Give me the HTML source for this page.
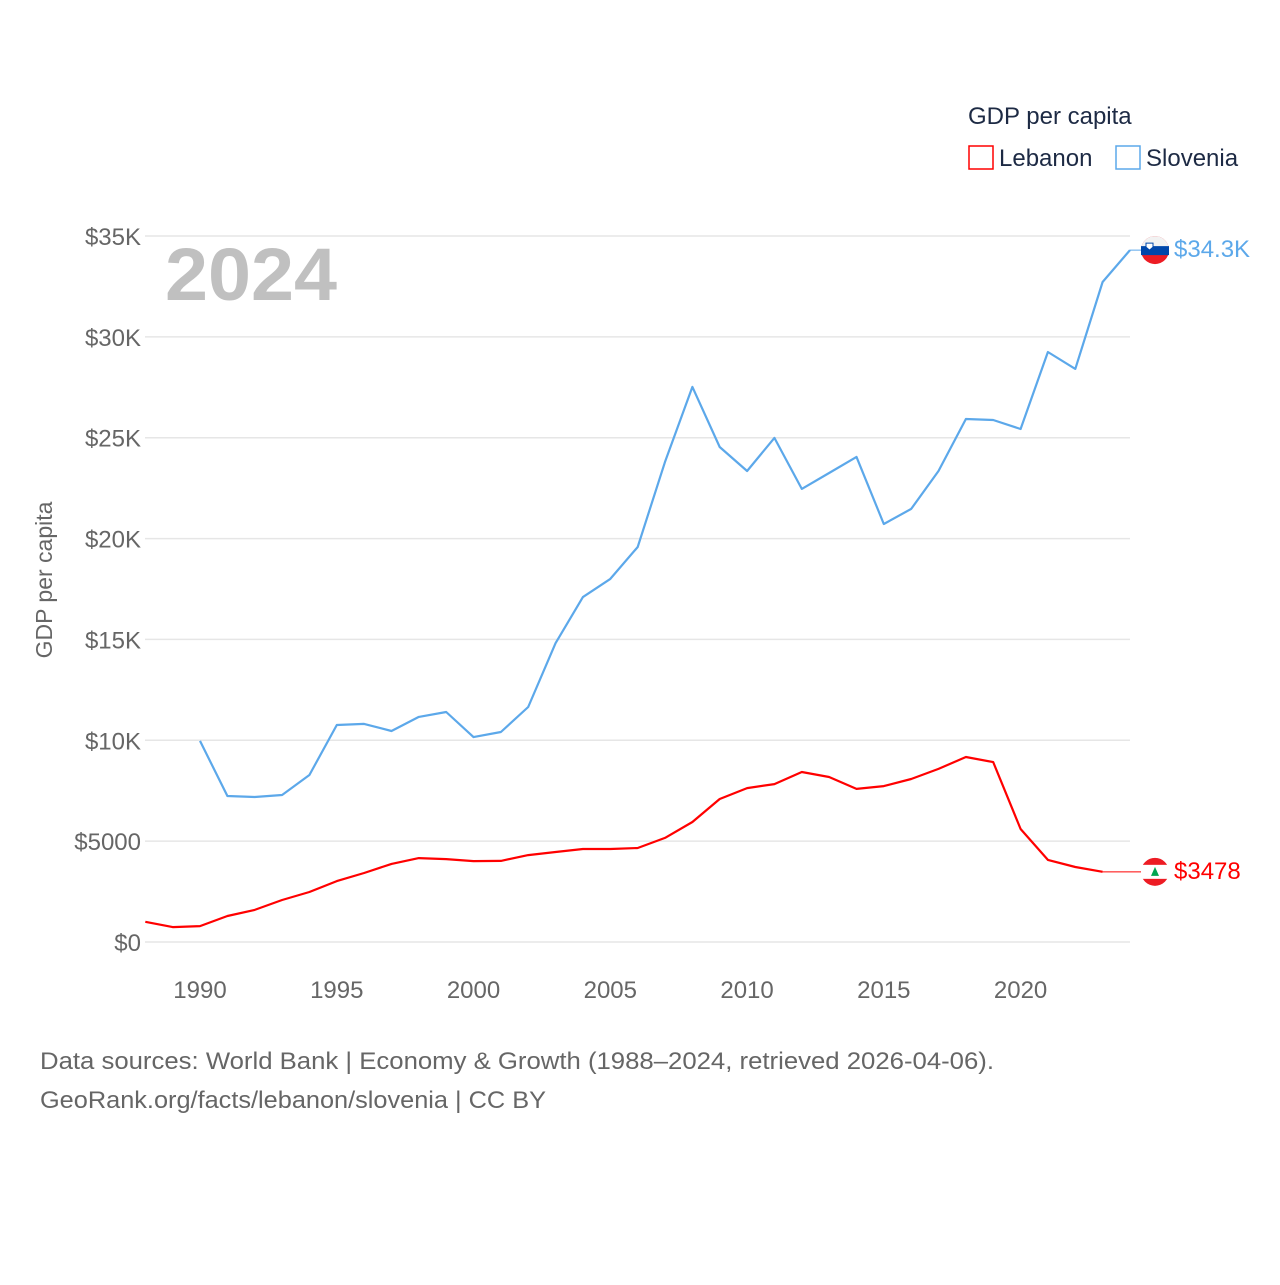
<!DOCTYPE html>
<html><head><meta charset="utf-8"><style>
body{margin:0;background:#fff;}
svg text{font-family:"Liberation Sans",sans-serif;}
</style></head><body>
<svg id="chart" width="1280" height="1280" viewBox="0 0 1280 1280" xmlns="http://www.w3.org/2000/svg">
<rect width="1280" height="1280" fill="#fff"/>
<g id="grid"></g>
<g id="yticks"></g>
<g id="xticks"></g>
<text x="165" y="300" font-size="74" font-weight="bold" fill="#c0c0c0" textLength="172" lengthAdjust="spacingAndGlyphs">2024</text>
<text x="52" y="580" font-size="23" fill="#666" transform="rotate(-90 52 580)" text-anchor="middle">GDP per capita</text>
<text x="968" y="124" font-size="24" fill="#1d2a44">GDP per capita</text>
<g>
<rect x="969" y="146" width="24" height="23" fill="none" stroke="#f00" stroke-width="1.5"/>
<text x="999" y="166" font-size="24" fill="#1d2a44">Lebanon</text></g>
<g>
<rect x="1116" y="146" width="24" height="23" fill="none" stroke="#5ca8ea" stroke-width="1.5"/>
<text x="1146" y="166" font-size="24" fill="#1d2a44">Slovenia</text></g>
<g id="series"></g>
<text x="40" y="1069" font-size="24" fill="#666" textLength="954" lengthAdjust="spacingAndGlyphs">Data sources: World Bank | Economy &amp; Growth (1988–2024, retrieved 2026-04-06).</text>
<text x="40" y="1108" font-size="24" fill="#666" textLength="506" lengthAdjust="spacingAndGlyphs">GeoRank.org/facts/lebanon/slovenia | CC BY</text>
</svg>
<script>
const years=[1988,1989,1990,1991,1992,1993,1994,1995,1996,1997,1998,1999,2000,2001,2002,2003,2004,2005,2006,2007,2008,2009,2010,2011,2012,2013,2014,2015,2016,2017,2018,2019,2020,2021,2022,2023,2024];
const lebanon=[1000,740,790,1290,1590,2080,2480,3020,3420,3870,4160,4110,4010,4020,4310,4460,4610,4610,4660,5160,5950,7090,7630,7830,8430,8180,7590,7730,8080,8580,9170,8920,5600,4070,3720,3478,null];
const slovenia=[null,null,9970,7240,7190,7290,8280,10760,10810,10460,11160,11400,10160,10410,11650,14820,17100,18000,19580,23800,27520,24540,23350,24990,22460,23250,24050,20720,21470,23350,25930,25880,25430,29250,28410,32720,34300];
const yTicks=[0,5000,10000,15000,20000,25000,30000,35000];
const yTickLabels=["$0","$5000","$10K","$15K","$20K","$25K","$30K","$35K"];
const xTicks=[1990,1995,2000,2005,2010,2015,2020];
const NS="http://www.w3.org/2000/svg";
const X=y=>145.3+(y-1988)*(1130-145.3)/36;
const Y=v=>942-v*(706/35000);
function mk(t,a,p){const e=document.createElementNS(NS,t);for(const k in a)e.setAttribute(k,a[k]);p.appendChild(e);return e;}
const grid=document.getElementById('grid'),yt=document.getElementById('yticks'),xt=document.getElementById('xticks'),ser=document.getElementById('series');
yTicks.forEach((v,i)=>{
 const l=mk('line',{x1:145,x2:1130,y1:Y(v),y2:Y(v),stroke:'#e6e6e6','stroke-width':1.5},grid);
 
 
 const t=mk('text',{x:141,y:Y(v)+9,'font-size':24,fill:'#666','text-anchor':'end'},yt);
 t.textContent=yTickLabels[i];
 
 
});
xTicks.forEach(v=>{
 const t=mk('text',{x:X(v),y:998,'font-size':24,fill:'#666','text-anchor':'middle'},xt);
 t.textContent=v;
 
 
});
function line(arr,color,name){
 let d='';let last=null;
 arr.forEach((v,i)=>{if(v==null)return;d+=(d?'L':'M')+X(years[i]).toFixed(1)+','+Y(v).toFixed(1);last=i;});
 const p=mk('path',{d:d,fill:'none',stroke:color,'stroke-width':2.2,'stroke-linejoin':'round'},ser);
 
 
 return last;
}
const li=line(lebanon,'#f00','lebanon-line');
const si=line(slovenia,'#5ca8ea','slovenia-line');
const fx=1155;
const ly=Y(lebanon[li]);
const c1=mk('line',{x1:X(years[li]),x2:fx,y1:ly,y2:ly,stroke:'#f00','stroke-width':1},ser);


const lf=mk('g',{},ser);


mk('circle',{cx:fx,cy:ly,r:14,fill:'#ed1c24'},lf);
mk('rect',{x:fx-14,y:ly-7,width:28,height:14,fill:'#fff'},lf);
mk('path',{d:`M${fx},${ly-5}L${fx+4},${ly+4}L${fx-4},${ly+4}Z`,fill:'#00a651'},lf);
const lt=mk('text',{x:1174,y:ly+7,'font-size':24,fill:'#f00'},ser);
lt.textContent='$'+lebanon[li];


const sy=Y(slovenia[si]);
const c2=mk('line',{x1:X(years[si]),x2:fx,y1:sy,y2:sy,stroke:'#5ca8ea','stroke-width':1},ser);


const sf=mk('g',{},ser);


mk('circle',{cx:fx,cy:sy,r:14,fill:'#ed1c24'},sf);
mk('path',{d:`M${fx-14},${sy}A14,14 0 0 1 ${fx+14},${sy}Z`,fill:'#f2f2f2'},sf);
mk('rect',{x:fx-14,y:sy-4,width:28,height:9,fill:'#0047ab'},sf);
mk('path',{d:`M${fx-9},${sy-7}h7v4l-3.5,3l-3.5,-3Z`,fill:'#fff',stroke:'#0047ab','stroke-width':1},sf);
const st=mk('text',{x:1174,y:sy+7,'font-size':24,fill:'#5ca8ea'},ser);
st.textContent='$'+(slovenia[si]/1000).toFixed(1)+'K';


</script>
</body></html>
